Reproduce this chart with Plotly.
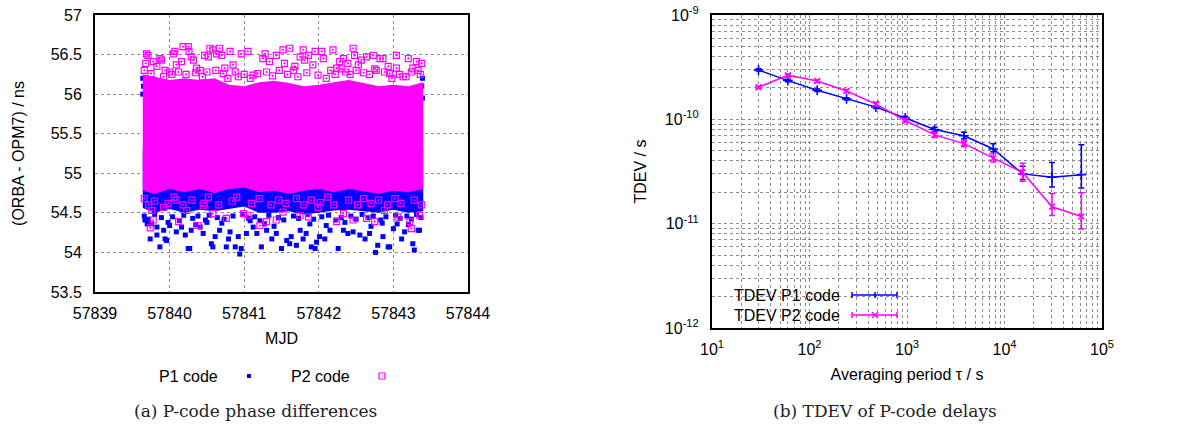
import plotly.graph_objects as go

# ---------------- data: left panel (P-code phase differences) ----------------
env_x = [57839.64, 57839.8, 57840.0, 57840.2, 57840.4, 57840.6, 57840.8, 57841.0, 57841.2, 57841.4,
         57841.6, 57841.8, 57842.0, 57842.2, 57842.4, 57842.6, 57842.8, 57843.0, 57843.2, 57843.40]
p2_core_top = [56.25, 56.22, 56.18, 56.2, 56.18, 56.2, 56.12, 56.1, 56.15, 56.17,
               56.14, 56.1, 56.12, 56.15, 56.18, 56.14, 56.1, 56.12, 56.1, 56.15]
p2_core_bot = [54.78, 54.74, 54.8, 54.76, 54.8, 54.75, 54.8, 54.82, 54.76, 54.78,
               54.74, 54.78, 54.8, 54.76, 54.8, 54.77, 54.74, 54.78, 54.76, 54.8]
p1_core_top = [55.3, 55.3, 55.3, 55.3, 55.3, 55.3, 55.3, 55.3, 55.3, 55.3,
               55.3, 55.3, 55.3, 55.3, 55.3, 55.3, 55.3, 55.3, 55.3, 55.3]
p1_core_bot = [54.56, 54.5, 54.55, 54.5, 54.54, 54.52, 54.55, 54.58, 54.5, 54.5,
               54.52, 54.48, 54.5, 54.53, 54.54, 54.52, 54.5, 54.54, 54.5, 54.52]

p1_x = [57839.74, 57839.87, 57839.83, 57839.94, 57839.96, 57839.92, 57839.83, 57840.00, 57840.09, 57840.16,
        57840.21, 57840.25, 57840.27, 57840.29, 57840.41, 57840.45, 57840.56, 57840.58, 57840.61, 57840.67,
        57840.76, 57840.79, 57840.81, 57840.88, 57840.92, 57840.94, 57840.96, 57841.03, 57841.12, 57841.17,
        57841.23, 57841.30, 57841.37, 57841.43, 57841.50, 57841.57, 57841.61, 57841.63, 57841.70, 57841.75,
        57841.79, 57841.83, 57841.90, 57841.95, 57841.97, 57842.01, 57842.08, 57842.15, 57842.26, 57842.33,
        57842.39, 57842.46, 57842.55, 57842.62, 57842.68, 57842.76, 57842.79, 57842.86, 57842.93, 57842.95,
        57843.00, 57843.11, 57843.15, 57843.26, 57843.28, 57843.33, 57843.35, 57839.67, 57839.76,
        57839.64, 57839.65, 57839.64, 57843.39, 57843.38, 57843.39, 57840.25, 57841.55, 57842.20, 57842.95,
        57839.70, 57839.98, 57840.35, 57840.70, 57841.08, 57841.40, 57841.88, 57842.35, 57842.70, 57843.05,
        57843.20, 57840.50, 57841.27, 57842.10, 57842.85,
        57839.66, 57839.72, 57839.80, 57839.89, 57840.04, 57840.13, 57840.19, 57840.31, 57840.38, 57840.48,
        57840.53, 57840.64, 57840.73, 57840.85, 57840.98, 57841.06, 57841.14, 57841.21, 57841.33, 57841.46,
        57841.53, 57841.66, 57841.73, 57841.85, 57841.93, 57842.04, 57842.13, 57842.23, 57842.30, 57842.43,
        57842.50, 57842.58, 57842.66, 57842.73, 57842.83, 57842.90, 57843.03, 57843.09, 57843.18, 57843.24,
        57843.31, 57843.37]
p1_y = [54.17, 54.07, 54.22, 54.17, 54.15, 54.28, 54.32, 54.34, 54.26, 54.32,
        54.22, 54.05, 54.05, 54.28, 54.32, 54.24, 54.11, 54.07, 54.20, 54.28,
        54.07, 54.17, 54.26, 54.07, 54.20, 53.98, 54.05, 54.24, 54.32, 54.24,
        54.07, 54.28, 54.17, 54.24, 54.05, 54.15, 54.11, 54.20, 54.09, 54.28,
        54.17, 54.24, 54.07, 54.05, 54.13, 54.20, 54.17, 54.28, 54.05, 54.28,
        54.24, 54.26, 54.22, 54.17, 54.24, 54.00, 54.09, 54.20, 54.07, 54.07,
        54.30, 54.17, 54.26, 54.11, 54.03, 54.28, 54.28, 54.41, 54.36,
        56.20, 56.10, 56.00, 56.20, 56.10, 55.95, 56.02, 56.05, 56.00, 56.05,
        54.36, 54.38, 54.35, 54.37, 54.40, 54.33, 54.36, 54.38, 54.33, 54.36,
        54.35, 54.38, 54.36, 54.34, 54.37,
        54.46, 54.42, 54.48, 54.44, 54.45, 54.40, 54.47, 54.43, 54.46, 54.41,
        54.47, 54.44, 54.42, 54.46, 54.48, 54.43, 54.45, 54.40, 54.47, 54.44,
        54.41, 54.46, 54.43, 54.48, 54.42, 54.45, 54.47, 54.41, 54.44, 54.46,
        54.42, 54.48, 54.44, 54.46, 54.41, 54.45, 54.47, 54.43, 54.46, 54.42,
        54.48, 54.44]

p2_x = [57839.69, 57839.71, 57839.68, 57839.78, 57839.83, 57839.87, 57839.89, 57839.94, 57840.00, 57840.05,
        57840.07, 57840.09, 57840.16, 57840.18, 57840.25, 57840.26, 57840.29, 57840.32, 57840.36, 57840.41,
        57840.47, 57840.52, 57840.54, 57840.58, 57840.63, 57840.67, 57840.70, 57840.74, 57840.81, 57840.85,
        57840.88, 57840.96, 57841.05, 57841.12, 57841.25, 57841.28, 57841.34, 57841.43, 57841.52, 57841.54,
        57841.61, 57841.68, 57841.75, 57841.79, 57841.81, 57841.86, 57841.92, 57841.95, 57842.04, 57842.06,
        57842.19, 57842.24, 57842.28, 57842.33, 57842.39, 57842.46, 57842.48, 57842.53, 57842.57, 57842.64,
        57842.73, 57842.77, 57842.82, 57842.86, 57842.93, 57842.95, 57843.04, 57843.04, 57843.13, 57843.20,
        57843.26, 57843.31, 57843.33, 57843.38,
        57839.66, 57839.75, 57839.92, 57840.03, 57840.12, 57840.22, 57840.35, 57840.44, 57840.50, 57840.62,
        57840.72, 57840.78, 57840.92, 57841.00, 57841.08, 57841.18, 57841.30, 57841.38, 57841.47, 57841.58,
        57841.66, 57841.72, 57841.84, 57841.99, 57842.10, 57842.16, 57842.22, 57842.30, 57842.36, 57842.42,
        57842.50, 57842.60, 57842.68, 57842.75, 57842.88, 57842.98, 57843.08, 57843.17, 57843.24, 57843.36,
        57839.74, 57839.76, 57839.78, 57839.92, 57840.09, 57840.12, 57840.23, 57840.38, 57840.45, 57840.58,
        57840.76, 57840.99, 57841.05, 57841.21, 57841.30, 57841.43, 57841.52, 57841.75, 57841.86, 57841.99,
        57842.24, 57842.33, 57842.46, 57842.64, 57842.75, 57842.88, 57843.06, 57843.22, 57843.35, 57843.24,
        57839.66, 57839.72, 57839.80, 57839.98, 57840.06, 57840.18, 57840.30, 57840.46, 57840.52, 57840.66,
        57840.84, 57840.90, 57841.10, 57841.20, 57841.36, 57841.46, 57841.56, 57841.70, 57841.80, 57841.90,
        57842.02, 57842.12, 57842.20, 57842.40, 57842.52, 57842.60, 57842.70, 57842.80, 57842.92, 57843.02,
        57843.10, 57843.28, 57843.38]
p2_y = [56.51, 56.49, 56.39, 56.41, 56.35, 56.45, 56.43, 56.30, 56.28, 56.51,
        56.54, 56.37, 56.41, 56.60, 56.60, 56.54, 56.47, 56.43, 56.33, 56.30,
        56.49, 56.47, 56.58, 56.56, 56.51, 56.58, 56.49, 56.33, 56.54, 56.37,
        56.28, 56.51, 56.54, 56.24, 56.45, 56.51, 56.41, 56.49, 56.56, 56.39,
        56.58, 56.35, 56.47, 56.56, 56.43, 56.49, 56.37, 56.54, 56.54, 56.45,
        56.56, 56.33, 56.41, 56.45, 56.39, 56.58, 56.49, 56.37, 56.43, 56.47,
        56.49, 56.30, 56.45, 56.45, 56.35, 56.26, 56.49, 56.33, 56.22, 56.45,
        56.33, 56.41, 56.30, 56.39,
        56.30, 56.26, 56.22, 56.25, 56.28, 56.25, 56.27, 56.22, 56.28, 56.30,
        56.26, 56.20, 56.22, 56.25, 56.20, 56.26, 56.28, 56.23, 56.30, 56.25,
        56.30, 56.22, 56.27, 56.24, 56.20, 56.30, 56.25, 56.32, 56.28, 56.25,
        56.30, 56.27, 56.25, 56.32, 56.28, 56.20, 56.25, 56.22, 56.28, 56.25,
        54.31, 54.53, 54.41, 54.57, 54.66, 54.39, 54.53, 54.34, 54.59, 54.49,
        54.43, 54.49, 54.47, 54.34, 54.39, 54.41, 54.51, 54.47, 54.45, 54.57,
        54.39, 54.49, 54.41, 54.43, 54.39, 54.53, 54.45, 54.39, 54.47, 54.30,
        54.68, 54.60, 54.65, 54.62, 54.70, 54.60, 54.66, 54.62, 54.70, 54.60,
        54.65, 54.70, 54.62, 54.68, 54.60, 54.66, 54.62, 54.68, 54.60, 54.66,
        54.63, 54.70, 54.60, 54.66, 54.60, 54.68, 54.62, 54.66, 54.60, 54.68,
        54.62, 54.66, 54.60]

# ---------------- data: right panel (TDEV) ----------------
tau = [30, 60, 120, 240, 480, 960, 1920, 3840, 7680, 15360, 30720, 61440]
tdev_p1 = [2.97e-10, 2.35e-10, 1.90e-10, 1.57e-10, 1.31e-10, 1.03e-10, 8.0e-11, 6.95e-11, 5.2e-11, 3.0e-11, 2.78e-11, 2.95e-11]
tdev_p1_hi = [3.05e-10, 2.41e-10, 1.95e-10, 1.61e-10, 1.35e-10, 1.07e-10, 8.4e-11, 7.5e-11, 5.85e-11, 3.55e-11, 3.85e-11, 5.7e-11]
tdev_p1_lo = [2.9e-10, 2.29e-10, 1.85e-10, 1.53e-10, 1.27e-10, 9.9e-11, 7.65e-11, 6.5e-11, 4.9e-11, 2.65e-11, 2.25e-11, 2.2e-11]
tdev_p2 = [2.03e-10, 2.64e-10, 2.33e-10, 1.87e-10, 1.40e-10, 9.75e-11, 7.1e-11, 5.85e-11, 4.25e-11, 3.1e-11, 1.45e-11, 1.17e-11]
tdev_p2_hi = [2.08e-10, 2.72e-10, 2.4e-10, 1.93e-10, 1.46e-10, 1.02e-10, 7.5e-11, 6.35e-11, 4.7e-11, 3.8e-11, 1.95e-11, 1.98e-11]
tdev_p2_lo = [1.98e-10, 2.56e-10, 2.26e-10, 1.81e-10, 1.34e-10, 9.3e-11, 6.7e-11, 5.45e-11, 3.9e-11, 2.55e-11, 1.2e-11, 8.9e-12]

left_xticks = [57839, 57840, 57841, 57842, 57843, 57844]
left_yticks = [53.5, 54, 54.5, 55, 55.5, 56, 56.5, 57]
right_xtick_exp = [1, 2, 3, 4, 5]
right_ytick_exp = [-12, -11, -10, -9]

# ---------------- styling ----------------
# the page body margin is removed (see post_script), so the figure fills the window
W, H = 1188, 426
BLUE = "#0000FF"
MAG = "#FF00FF"
FONT = "Liberation Sans, Arial, sans-serif"
GRID = "#8c8c8c"


def fx(px):
    return px / W


def fy(py):
    return 1 - py / H


fig = go.Figure()

# left panel: P1 core then points, then P2 core then points
fig.add_trace(go.Scatter(x=env_x + env_x[::-1], y=p1_core_top + p1_core_bot[::-1], fill="toself",
                         fillcolor=BLUE, line=dict(width=0, color=BLUE), mode="lines",
                         xaxis="x", yaxis="y", showlegend=False, hoverinfo="skip"))
fig.add_trace(go.Scatter(x=p1_x, y=p1_y, mode="markers", xaxis="x", yaxis="y", showlegend=False,
                         marker=dict(symbol="square", size=5, color=BLUE, line=dict(width=0))))
fig.add_trace(go.Scatter(x=env_x + env_x[::-1], y=p2_core_top + p2_core_bot[::-1], fill="toself",
                         fillcolor=MAG, line=dict(width=0, color=MAG), mode="lines",
                         xaxis="x", yaxis="y", showlegend=False, hoverinfo="skip"))
fig.add_trace(go.Scatter(x=p2_x, y=p2_y, mode="markers", xaxis="x", yaxis="y", showlegend=False,
                         marker=dict(symbol="square-open-dot", size=6, color=MAG, line=dict(width=1.2, color=MAG))))

# right panel
fig.add_trace(go.Scatter(
    x=tau, y=tdev_p1, mode="lines+markers", xaxis="x2", yaxis="y2", showlegend=False,
    line=dict(color=BLUE, width=1.5),
    marker=dict(symbol="cross-thin", size=7, line=dict(width=1.5, color=BLUE), color=BLUE),
    error_y=dict(type="data", symmetric=False,
                 array=[h - v for h, v in zip(tdev_p1_hi, tdev_p1)],
                 arrayminus=[v - l for v, l in zip(tdev_p1, tdev_p1_lo)],
                 color=BLUE, thickness=1.5, width=3)))
fig.add_trace(go.Scatter(
    x=tau, y=tdev_p2, mode="lines+markers", xaxis="x2", yaxis="y2", showlegend=False,
    line=dict(color=MAG, width=1.5),
    marker=dict(symbol="x-thin", size=6, line=dict(width=1.5, color=MAG), color=MAG),
    error_y=dict(type="data", symmetric=False,
                 array=[h - v for h, v in zip(tdev_p2_hi, tdev_p2)],
                 arrayminus=[v - l for v, l in zip(tdev_p2, tdev_p2_lo)],
                 color=MAG, thickness=1.5, width=3)))

axis_common = dict(showline=True, mirror=True, linecolor="black", linewidth=2, ticks="",
                   showgrid=True, gridcolor=GRID, griddash="dot", gridwidth=1, zeroline=False,
                   automargin=False, ticklabeloverflow="allow",
                   tickfont=dict(family=FONT, size=16, color="black"),
                   title_font=dict(family=FONT, size=16, color="black"))

minor_vals = [m * 10 ** d for d in range(1, 5) for m in range(2, 10)]
minor_yvals = [m * 10.0 ** d for d in range(-12, -9) for m in range(2, 10)]

fig.update_layout(
    template="none",
    width=W, height=H, margin=dict(l=0, r=0, t=0, b=0, pad=0), autosize=False,
    paper_bgcolor="white", plot_bgcolor="white",
    xaxis=dict(axis_common, domain=[fx(95), fx(468)], range=[57839, 57844], tickmode="array",
               tickvals=left_xticks, ticktext=[str(v) for v in left_xticks], anchor="y",
               title=dict(text="MJD", standoff=12), ticklabelstandoff=6),
    yaxis=dict(axis_common, domain=[fy(292), fy(15)], range=[53.5, 57], tickmode="array",
               tickvals=left_yticks, ticktext=[f"{v:g}" for v in left_yticks], anchor="x",
               title=dict(text="(ORBA - OPM7) / ns", standoff=22), ticklabelstandoff=8),
    xaxis2=dict(axis_common, type="log", domain=[fx(712), fx(1102)], range=[1, 5], tickmode="array",
                tickvals=[10 ** e for e in right_xtick_exp],
                ticktext=[f"10<sup>{e}</sup>" for e in right_xtick_exp], anchor="y2",
                minor=dict(tickmode="array", tickvals=minor_vals, showgrid=True, gridcolor=GRID,
                           griddash="dot", gridwidth=1, ticks=""),
                title=dict(text="Averaging period τ / s", standoff=12), ticklabelstandoff=6),
    yaxis2=dict(axis_common, type="log", domain=[fy(328), fy(15)], range=[-12, -9], tickmode="array",
                tickvals=[10.0 ** e for e in right_ytick_exp],
                ticktext=[f"10<sup>{e}</sup>" for e in right_ytick_exp], anchor="x2",
                minor=dict(tickmode="array", tickvals=minor_yvals, showgrid=True, gridcolor=GRID,
                           griddash="dot", gridwidth=1, ticks=""),
                title=dict(text="TDEV / s", standoff=14), ticklabelstandoff=8),
)

annotations = []
shapes = []


def label(text, px, py, size=16, family=FONT, xanchor="center", color="black"):
    return dict(text=text, x=fx(px), y=fy(py), xref="paper", yref="paper", xanchor=xanchor,
                yanchor="middle", showarrow=False, font=dict(family=family, size=size, color=color))


# left legend
annotations.append(label("P1 code", 188, 376))
annotations.append(label("P2 code", 320, 376))
shapes.append(dict(type="rect", xref="paper", yref="paper", x0=fx(247), x1=fx(251), y0=fy(378), y1=fy(374),
                   fillcolor=BLUE, line=dict(width=0)))
shapes.append(dict(type="rect", xref="paper", yref="paper", x0=fx(379), x1=fx(385), y0=fy(379), y1=fy(373),
                   line=dict(width=1.2, color=MAG)))
shapes.append(dict(type="rect", xref="paper", yref="paper", x0=fx(381.5), x1=fx(382.5), y0=fy(376.5), y1=fy(375.5),
                   fillcolor=MAG, line=dict(width=0)))

# right legend
for text, yy, col, mk in [("TDEV P1 code", 295, BLUE, "+"), ("TDEV P2 code", 315, MAG, "x")]:
    annotations.append(label(text, 842, yy, xanchor="right"))
    shapes.append(dict(type="line", xref="paper", yref="paper", x0=fx(852), x1=fx(897), y0=fy(yy), y1=fy(yy),
                       line=dict(color=col, width=1.5)))
    for cx in (852, 897):
        shapes.append(dict(type="line", xref="paper", yref="paper", x0=fx(cx), x1=fx(cx), y0=fy(yy - 3), y1=fy(yy + 3),
                           line=dict(color=col, width=1.5)))
    if mk == "+":
        shapes.append(dict(type="line", xref="paper", yref="paper", x0=fx(875), x1=fx(875), y0=fy(yy - 3), y1=fy(yy + 3),
                           line=dict(color=col, width=1.5)))
    else:
        shapes.append(dict(type="line", xref="paper", yref="paper", x0=fx(872), x1=fx(878), y0=fy(yy - 3), y1=fy(yy + 3),
                           line=dict(color=col, width=1.5)))
        shapes.append(dict(type="line", xref="paper", yref="paper", x0=fx(872), x1=fx(878), y0=fy(yy + 3), y1=fy(yy - 3),
                           line=dict(color=col, width=1.5)))

# captions
annotations.append(label("(a) P-code phase differences", 255, 411, size=17, family="DejaVu Serif, serif", color="#222"))
annotations.append(label("(b) TDEV of P-code delays", 885, 411, size=17, family="DejaVu Serif, serif", color="#222"))

fig.update_layout(annotations=annotations, shapes=shapes)

fig.write_html("out.html", config={"displayModeBar": False},
               post_script="document.body.style.margin='0';document.body.style.overflow='hidden';")
